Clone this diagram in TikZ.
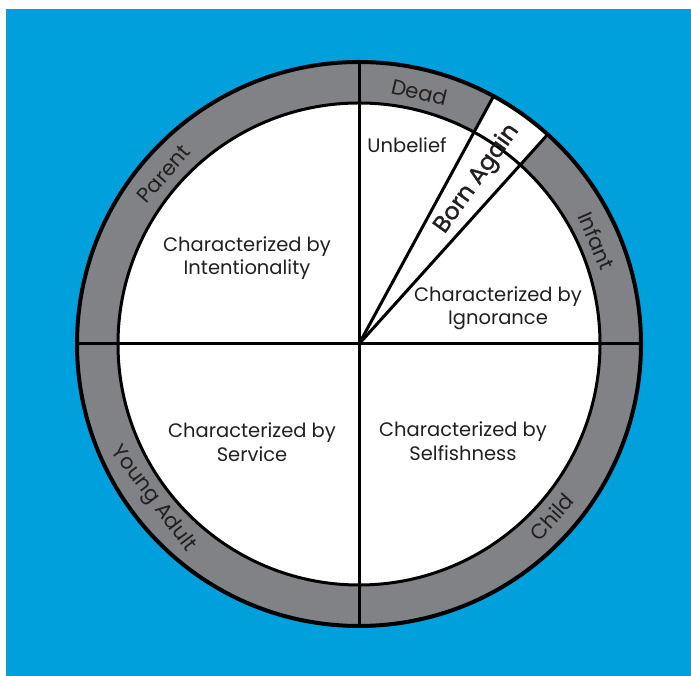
\documentclass[tikz,border=0pt]{standalone}
\usepackage{fontspec}
\setmainfont{Poppins}
\newfontfamily\bornfont{Poppins}[FakeBold=1.4]
\definecolor{bgblue}{RGB}{0,160,220}
\definecolor{ringgray}{RGB}{128,130,133}
\definecolor{txt}{RGB}{35,31,32}
\begin{document}
\begin{tikzpicture}[x=1pt,y=1pt,
  inner/.style={font=\fontsize{19.5}{23.5}\selectfont, align=center, text=txt, inner sep=0pt},
  ringlbl/.style={font=\fontsize{21}{24}\selectfont, text=txt, inner sep=0pt}]
\useasboundingbox (0,0) rectangle (691,676);
\fill[white] (0,0) rectangle (691,676);
\fill[bgblue] (6,0) rectangle (691,667);
\begin{scope}[shift={(359,332)}]
  \coordinate (c) at (0,0);
  \fill[ringgray] (c) circle (282);
  \fill[white] (c) circle (241);
  \fill[white] (c) -- (48:282) arc (48:61.5:282) -- cycle;
  \draw[line width=3] (90:282) -- (270:282);
  \draw[line width=3] (0:282) -- (180:282);
  \draw[line width=3] (c) -- (48:282);
  \draw[line width=3] (c) -- (61.5:282);
  \draw[line width=3] (c) circle (241);
  \draw[line width=4] (c) circle (282);
  % ring labels
  \node[ringlbl, rotate=-13.5] (dead) at (76.5:259) {Dead};
  \node[ringlbl, rotate=48.9] (parent) at (138.9:259) {Parent};
  \node[ringlbl, rotate=-66.5] (infant) at (23.5:259) {Infant};
  \node[ringlbl, rotate=48] (child) at (-42:259) {Child};
  \node[ringlbl, rotate=-53] (young) at (217:258) {Young Adult};
  \node[ringlbl, rotate=54.4, font=\bornfont\fontsize{23.5}{26}\selectfont] (born) at (54.4:203) {Born Again};
\end{scope}
% inner texts
\node[inner] (unbelief) at (407,531) {Unbelief};
\node[inner] (intent) at (247,418) {Characterized by\\Intentionality};
\node[inner] (ignor) at (498,368) {Characterized by\\Ignorance};
\node[inner] (serv) at (252,234) {Characterized by\\Service};
\node[inner] (self) at (463,235) {Characterized by\\Selfishness};
\end{tikzpicture}
\end{document}
